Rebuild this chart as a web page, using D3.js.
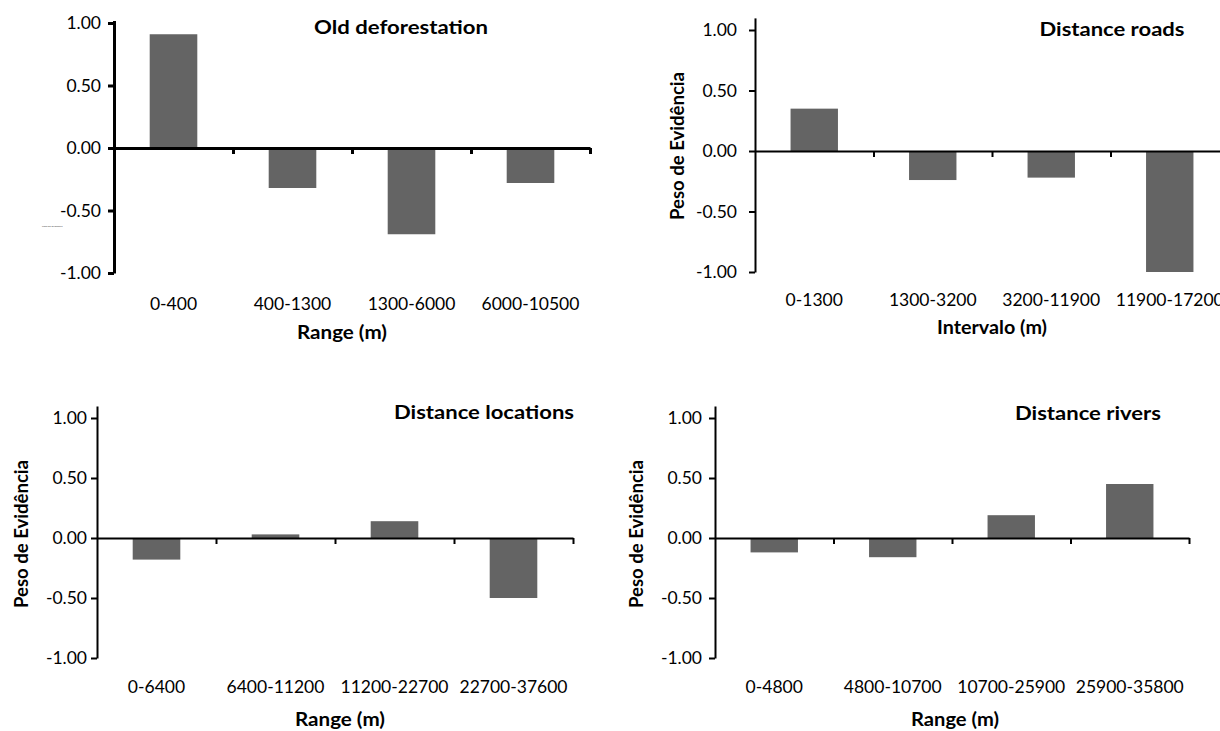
<!DOCTYPE html>
<html>
<head>
<meta charset="utf-8">
<script src="https://cdn.jsdelivr.net/npm/d3@7"></script>
<style>
  body { margin: 0; background: #fff; }
  svg { display: block; font-family: Lato, "Open Sans", sans-serif; }
</style>
</head>
<body>
<svg id="chart" width="1220" height="731"></svg>
<script>
// values
var yTicks = [1, 0.5, 0, -0.5, -1];

var oldCats = ["0-400", "400-1300", "1300-6000", "6000-10500"];
var oldVals = [0.91, -0.32, -0.69, -0.28];

var roadCats = ["0-1300", "1300-3200", "3200-11900", "11900-17200"];
var roadVals = [0.35, -0.24, -0.22, -1.00];

var locCats = ["0-6400", "6400-11200", "11200-22700", "22700-37600"];
var locVals = [-0.18, 0.03, 0.14, -0.50];

var rivCats = ["0-4800", "4800-10700", "10700-25900", "25900-35800"];
var rivVals = [-0.12, -0.16, 0.19, 0.45];

// layout of each panel (pixels); tw/xw/yw = widths of the bold texts
var panels = [
  {cats: oldCats, vals: oldVals, title: "Old deforestation", xTitle: "Range (m)", yTitle: null,
   x0: 114, x1: 590, y1: 23, ym1: 273, top: 1.02, sw: 3, pad: 7,
   titleX: 401, titleY: 34, tw: 174, labY: 310, xTitleX: 342, xTitleY: 339, xw: 90,
   yTitleX: 0, yTitleY: 0, yw: 0},
  {cats: roadCats, vals: roadVals, title: "Distance roads", xTitle: "Intervalo (m)", yTitle: "Peso de Evidência",
   x0: 755, x1: 1229, y1: 30, ym1: 272, top: 1.1, sw: 2, pad: 12,
   titleX: 1112, titleY: 36, tw: 145, labY: 306, xTitleX: 992, xTitleY: 334, xw: 110,
   yTitleX: 678, yTitleY: 146, yw: 148},
  {cats: locCats, vals: locVals, title: "Distance locations", xTitle: "Range (m)", yTitle: "Peso de Evidência",
   x0: 97, x1: 573, y1: 418, ym1: 658, top: 1.1, sw: 2, pad: 4,
   titleX: 484, titleY: 419, tw: 180, labY: 693, xTitleX: 340, xTitleY: 726, xw: 90,
   yTitleX: 22, yTitleY: 534, yw: 148},
  {cats: rivCats, vals: rivVals, title: "Distance rivers", xTitle: "Range (m)", yTitle: "Peso de Evidência",
   x0: 715, x1: 1189, y1: 418, ym1: 658, top: 1.1, sw: 2, pad: 7,
   titleX: 1088, titleY: 420, tw: 146, labY: 693, xTitleX: 955, xTitleY: 726, xw: 88,
   yTitleX: 637, yTitleY: 534, yw: 148}
];

var svg = d3.select("#chart");

var drawPanel = function(p)
{
    var g = svg.append("g");

    var unit = (p.ym1 - p.y1) / 2;
    var y = d3.scaleLinear()
        .domain([-1, p.top])
        .range([p.ym1, p.ym1 - unit * (p.top + 1)]);

    var x = d3.scaleBand()
        .domain(p.cats)
        .range([p.x0, p.x1])
        .paddingInner(0.6)
        .paddingOuter(0.3);

    // bars
    g.append("g")
        .selectAll("rect")
        .data(p.vals)
        .enter()
        .append("rect")
        .attr("x", function(d, i) { return x(p.cats[i]); })
        .attr("y", function(d) { return y(Math.max(0, d)); })
        .attr("width", x.bandwidth())
        .attr("height", function(d) { return Math.abs(y(d) - y(0)); })
        .attr("fill", "#646464");

    // y axis
    var yAxis = g.append("g")
        .attr("transform", "translate(" + p.x0 + ",0)")
        .call(d3.axisLeft(y)
            .tickValues(yTicks)
            .tickFormat(function(d) { return d.toFixed(2); })
            .tickSizeInner(6)
            .tickSizeOuter(0)
            .tickPadding(p.pad));
    yAxis.select(".domain").attr("stroke", "#000").attr("stroke-width", p.sw);
    yAxis.selectAll(".tick line").attr("stroke", "#000").attr("stroke-width", p.sw);
    yAxis.selectAll("text")
        .attr("font-size", "17.5px")
        .attr("fill", "#000")
        .attr("font-family", "Lato, sans-serif");

    // x axis at zero, ticks at category boundaries
    var bounds = d3.scaleLinear().domain([0, p.cats.length]).range([p.x0, p.x1]);
    var xAxis = g.append("g")
        .attr("transform", "translate(0," + y(0) + ")")
        .call(d3.axisBottom(bounds)
            .tickValues(d3.range(1, p.cats.length + 1))
            .tickFormat("")
            .tickSizeInner(6)
            .tickSizeOuter(0));
    xAxis.select(".domain").attr("stroke", "#000").attr("stroke-width", p.sw);
    xAxis.selectAll(".tick line").attr("stroke", "#000").attr("stroke-width", p.sw);

    // category labels at the bottom
    g.append("g")
        .selectAll("text")
        .data(p.cats)
        .enter()
        .append("text")
        .attr("x", function(d) { return x(d) + x.bandwidth() / 2; })
        .attr("y", p.labY)
        .attr("text-anchor", "middle")
        .attr("font-size", "17.5px")
        .text(function(d) { return d; });

    // titles
    g.append("text")
        .attr("x", p.titleX - p.tw / 2)
        .attr("y", p.titleY)
        .attr("font-weight", "bold")
        .attr("font-size", "19px")
        .attr("textLength", p.tw)
        .attr("lengthAdjust", "spacingAndGlyphs")
        .text(p.title);

    g.append("text")
        .attr("x", p.xTitleX - p.xw / 2)
        .attr("y", p.xTitleY)
        .attr("font-weight", "bold")
        .attr("font-size", "18px")
        .attr("textLength", p.xw)
        .attr("lengthAdjust", "spacingAndGlyphs")
        .text(p.xTitle);

    if (p.yTitle)
    {
        g.append("text")
            .attr("transform", "translate(" + p.yTitleX + "," + (p.yTitleY + p.yw / 2) + ") rotate(-90)")
            .attr("dy", "0.35em")
            .attr("font-weight", "bold")
            .attr("font-size", "18px")
            .attr("textLength", p.yw)
            .attr("lengthAdjust", "spacingAndGlyphs")
            .text(p.yTitle);
    }
}

panels.forEach(drawPanel);

// the tiny leftover axis label in the first panel
svg.append("text")
    .attr("x", 42)
    .attr("y", 227)
    .attr("font-size", "2.6px")
    .attr("fill", "#444")
    .text("Peso de Evidência");
</script>
</body>
</html>
